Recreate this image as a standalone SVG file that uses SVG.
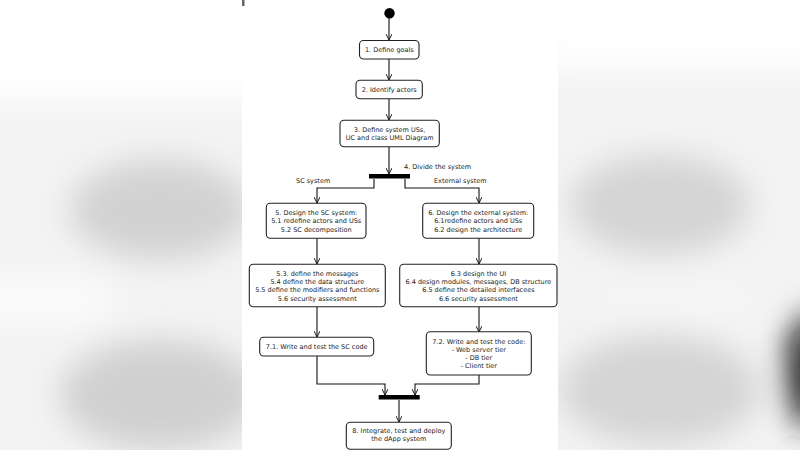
<svg xmlns="http://www.w3.org/2000/svg" width="800" height="450" viewBox="0 0 800 450">
<defs>
<filter id="blur" x="-50%" y="-50%" width="200%" height="200%"><feGaussianBlur stdDeviation="16"/></filter>
<marker id="arr" viewBox="0 0 10 10" refX="10" refY="5" markerWidth="6" markerHeight="6" markerUnits="userSpaceOnUse" orient="auto">
<path d="M0,0 L10,5 L0,10" fill="none" stroke="#111" stroke-width="1.6"/>
</marker>
<style>
.box{fill:#fff;stroke:#222;stroke-width:1.1}
.t{font-family:"DejaVu Sans",sans-serif;font-size:6.5px;fill:#1a1a1a;text-anchor:middle}
.l{font-family:"DejaVu Sans",sans-serif;font-size:6.5px;fill:#1a1a1a}
.c{fill:none;stroke:#111;stroke-width:1.1;marker-end:url(#arr)}
.bar{fill:#000}
</style>
</defs>
<rect width="800" height="450" fill="#f3f3f3"/>
<g id="background" filter="url(#blur)">
<rect x="-40" y="-40" width="320" height="140" fill="#fff"/>
<rect x="540" y="-40" width="300" height="110" fill="#fff"/>
<ellipse cx="160" cy="210" rx="90" ry="50" fill="#d2d2d2"/>
<ellipse cx="160" cy="395" rx="100" ry="55" fill="#d0d0d0"/>
<ellipse cx="40" cy="300" rx="80" ry="22" fill="#fcfcfc"/>
<ellipse cx="660" cy="205" rx="90" ry="50" fill="#d4d4d4"/>
<ellipse cx="660" cy="390" rx="100" ry="55" fill="#d4d4d4"/>
<ellipse cx="680" cy="300" rx="90" ry="18" fill="#f6f6f6"/>
<ellipse cx="808" cy="370" rx="22" ry="58" fill="#222"/>
</g>
<rect x="242" y="0" width="316" height="450" fill="#fff"/>
<rect x="242" y="0" width="2.5" height="6" fill="#666"/>

<g id="connectors">
<path class="c" d="M389,18 V40"/>
<path class="c" d="M389,59 V80"/>
<path class="c" d="M389,99 V120"/>
<path class="c" d="M389,147 V174"/>
<path class="c" d="M374,179 V188 H317 V203"/>
<path class="c" d="M405,179 V188 H479 V203"/>
<path class="c" d="M317,238 V264"/>
<path class="c" d="M479,238 V264"/>
<path class="c" d="M317,306 V337"/>
<path class="c" d="M479,306 V332"/>
<path class="c" d="M317,356 V384 H385 V395"/>
<path class="c" d="M479,375 V384 H415 V395"/>
<path class="c" d="M399,400 V422"/>
</g>

<g id="start"><circle cx="389.5" cy="13.3" r="5.2" fill="#000"/></g>

<g id="n1"><rect class="box" x="359.5" y="40.5" width="59.5" height="18.5" rx="4"/>
<text class="t" x="389.3" y="52.3">1. Define goals</text></g>

<g id="n2"><rect class="box" x="356" y="80.3" width="66.3" height="18.5" rx="4"/>
<text class="t" x="389.2" y="92">2. Identify actors</text></g>

<g id="n3"><rect class="box" x="340" y="120.3" width="99.3" height="26.5" rx="4"/>
<text class="t" x="389.6" y="131.7">3. Define system USs,</text>
<text class="t" x="389.6" y="139.7">UC and class UML Diagram</text></g>

<g id="fork"><rect class="bar" x="369" y="174" width="41" height="4.5"/></g>
<text class="l" x="404" y="168.5">4. Divide the system</text>
<text class="l" x="296" y="182.5">SC system</text>
<text class="l" x="434" y="182.5">External system</text>

<g id="n5"><rect class="box" x="266.3" y="203.3" width="99.7" height="35" rx="4"/>
<text class="t" x="316.2" y="214.5">5.  Design the SC system:</text>
<text class="t" x="316.2" y="223">5.1 redefine actors and USs</text>
<text class="t" x="316.2" y="231.5">5.2 SC decomposition</text></g>

<g id="n6"><rect class="box" x="422.7" y="203.3" width="111" height="35" rx="4"/>
<text class="t" x="478.2" y="214.5">6. Design the external system:</text>
<text class="t" x="478.2" y="223">6.1redefine actors and USs</text>
<text class="t" x="478.2" y="231.5">6.2 design the architecture</text></g>

<g id="n53"><rect class="box" x="249.3" y="264.3" width="136" height="42.4" rx="4"/>
<text class="t" x="317.3" y="275.5">5.3. define the messages</text>
<text class="t" x="317.3" y="284">5.4 define the data structure</text>
<text class="t" x="317.3" y="292.4">5.5 define the modifiers and functions</text>
<text class="t" x="317.3" y="300.8">5.6 security assessment</text></g>

<g id="n63"><rect class="box" x="399.7" y="264.3" width="157.3" height="42.4" rx="4"/>
<text class="t" x="478.4" y="275.5">6.3 design the UI</text>
<text class="t" x="478.4" y="284">6.4 design modules, messages, DB structure</text>
<text class="t" x="478.4" y="292.4">6.5 define the detailed interfacees</text>
<text class="t" x="478.4" y="300.8">6.6 security assessment</text></g>

<g id="n71"><rect class="box" x="259.7" y="337.3" width="114" height="18.7" rx="4"/>
<text class="t" x="316.7" y="349">7.1. Write and test the SC code</text></g>

<g id="n72"><rect class="box" x="426.3" y="331.7" width="105" height="43.3" rx="4"/>
<text class="t" x="478.8" y="344">7.2. Write and test the code:</text>
<text class="t" x="478.8" y="352.2">- Web server tier</text>
<text class="t" x="478.8" y="360.2">- DB tier</text>
<text class="t" x="478.8" y="368.2">- Client tier</text></g>

<g id="join"><rect class="bar" x="378.7" y="395" width="41" height="4.5"/></g>

<g id="n8"><rect class="box" x="346.3" y="422.3" width="105" height="27" rx="4"/>
<text class="t" x="398.8" y="433.3">8. Integrate, test and deploy</text>
<text class="t" x="398.8" y="441">the dApp system</text></g>
</svg>
